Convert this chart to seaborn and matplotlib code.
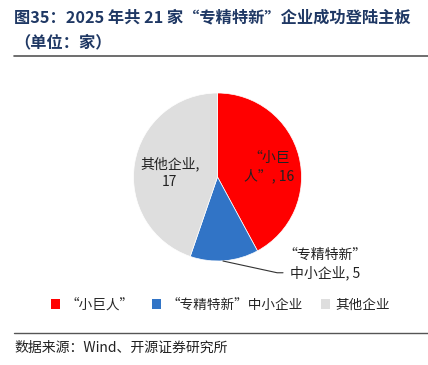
import matplotlib
matplotlib.use("Agg")
import matplotlib.pyplot as plt
import seaborn as sns
from matplotlib.patches import Patch
from matplotlib.lines import Line2D

categories = ["“小巨人”", "“专精特新”中小企业", "其他企业"]
values = [16, 5, 17]
slice_labels = ["“小巨\n人”, 16", "“专精特新”\n中小企业, 5", "其他企业,\n17"]
colors = ["#FF0000", "#3174C6", "#DEDEDE"]

sns.set_theme(style="white")
plt.rcParams['font.family'] = ['Noto Sans CJK SC', 'DejaVu Sans']

W, H = 428, 365
fig = plt.figure(figsize=(W / 100, H / 100), dpi=100)
fig.patch.set_facecolor("white")

# title
title_color = "#1F3864"
fig.text(14 / W, 1 - 17 / H, "图35：2025 年共 21 家“专精特新”企业成功登陆主板",
         fontsize=11.7, fontweight="bold", color=title_color, va="center", ha="left")
fig.text(14 / W, 1 - 42 / H, "（单位：家）",
         fontsize=11.7, fontweight="bold", color=title_color, va="center", ha="left")
fig.add_artist(Line2D([14 / W, 1.0], [1 - 56 / H, 1 - 56 / H], color="#555555", lw=1.2,
                      transform=fig.transFigure))

# pie
cx, cy, r = 217.5, 177, 84
ax = fig.add_axes([(cx - r) / W, 1 - (cy + r) / H, 2 * r / W, 2 * r / H])
wedges, _ = ax.pie(values, colors=colors, startangle=90, counterclock=False, radius=1,
                   wedgeprops=dict(edgecolor="white", linewidth=0.5))
ax.set_xlim(-1, 1)
ax.set_ylim(-1, 1)
ax.set_aspect("equal")
ax.axis("off")

ax.text(0.62, 0.12, slice_labels[0], ha="center", va="center", fontsize=10,
        color="#222222", linespacing=1.3)
ax.text(-0.57, 0.05, slice_labels[2], ha="center", va="center", fontsize=10,
        color="#222222", linespacing=1.3)
ax.text(1.28, -1.04, slice_labels[1], ha="center", va="center", fontsize=10,
        color="#222222", linespacing=1.3, clip_on=False)
ax.plot([0.065, 0.71, 0.78], [-1.0, -1.14, -1.14], color="#333333", lw=0.8,
        clip_on=False)

# legend
handles = [Patch(facecolor=c, edgecolor="none") for c in colors]
fig.legend(handles, categories, loc="center", bbox_to_anchor=(0.515, 1 - 305 / H),
           ncol=3, frameon=False, fontsize=9.8, handlelength=0.7, handleheight=0.7,
           handletextpad=0.4, columnspacing=1.3)

# source
fig.add_artist(Line2D([14 / W, 1.0], [1 - 333 / H, 1 - 333 / H], color="#555555", lw=1.0,
                      transform=fig.transFigure))
fig.text(14 / W, 1 - 348 / H, "数据来源：Wind、开源证券研究所", fontsize=10,
         color="#222222", va="center", ha="left")

fig.savefig("out.png", dpi=100, facecolor="white")
